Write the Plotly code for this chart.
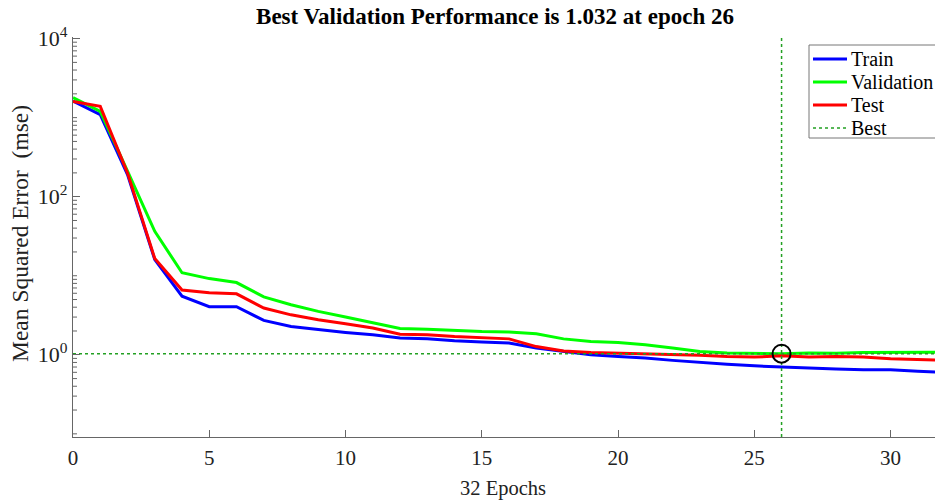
import math
import plotly.graph_objects as go

epochs = list(range(0, 33))
train = [1620, 1090, 190, 16, 5.5, 4.05, 4.05, 2.72, 2.28, 2.07, 1.92, 1.79, 1.63,
         1.59, 1.50, 1.45, 1.41, 1.22, 1.10, 1.00, 0.95, 0.91, 0.85, 0.80, 0.76,
         0.725, 0.70, 0.68, 0.66, 0.645, 0.645, 0.62, 0.60]
validation = [1790, 1200, 210, 36.5, 10.9, 9.2, 8.2, 5.4, 4.3, 3.54, 3.0, 2.54, 2.15,
              2.11, 2.03, 1.97, 1.94, 1.85, 1.59, 1.47, 1.43, 1.34, 1.22, 1.10, 1.05,
              1.035, 1.032, 1.05, 1.045, 1.07, 1.075, 1.075, 1.075]
test = [1600, 1390, 200, 16.5, 6.6, 6.1, 5.9, 3.9, 3.2, 2.77, 2.47, 2.18, 1.82,
        1.79, 1.70, 1.66, 1.59, 1.27, 1.12, 1.07, 1.05, 1.02, 1.00, 0.99, 0.95,
        0.935, 0.97, 0.935, 0.95, 0.935, 0.89, 0.865, 0.85]
best_epoch = 26
best_value = 1.032
n_epochs = 32

series_names = ["Train", "Validation", "Test", "Best"]
series_colors = ["#0000FF", "#00FF00", "#FF0000", "#22a022"]

x_range = [0, 31.63]
y_log_range = [-1.04, 4.02]
x_tick_vals = [0, 5, 10, 15, 20, 25, 30]
y_tick_vals = [1, 100, 10000]
y_tick_text = ["10<sup>0</sup>", "10<sup>2</sup>", "10<sup>4</sup>"]
y_minor_vals = [d * 10 ** k for k in range(-1, 4) for d in range(1, 10)
                if d * 10 ** k not in y_tick_vals]

serif = "Liberation Serif, Times New Roman, serif"
W, H = 935, 503
L, R, T, B = 73, 0, 37, 66
pw, ph = W - L - R, H - T - B


def px_x(px):
    return (px - L) / pw


def px_y(py):
    return (H - B - py) / ph


fig = go.Figure()
for name, vals, col in zip(series_names[:3], [train, validation, test], series_colors[:3]):
    fig.add_trace(go.Scatter(x=epochs, y=vals, mode="lines", name=name,
                             showlegend=False, line=dict(color=col, width=3)))
fig.add_trace(go.Scatter(
    x=[0, n_epochs, None, best_epoch, best_epoch],
    y=[best_value, best_value, None, 10 ** y_log_range[0], 10 ** y_log_range[1]],
    mode="lines", name="Best", showlegend=False,
    line=dict(color=series_colors[3], width=1.5, dash="dot")))
fig.add_trace(go.Scatter(x=[best_epoch], y=[best_value], mode="markers",
                         showlegend=False,
                         marker=dict(symbol="circle-open", size=18, color="black",
                                     line=dict(color="black", width=2))))

fig.update_layout(
    width=W, height=H,
    margin=dict(l=L, r=R, t=T, b=B, autoexpand=False),
    paper_bgcolor="white", plot_bgcolor="white",
    font=dict(family=serif, color="#222222"),
    title=dict(text="<b>Best Validation Performance is 1.032 at epoch 26</b>",
               xref="container", x=495 / W, xanchor="center",
               yref="container", y=1 - 16 / H, yanchor="middle",
               font=dict(size=23, color="black", family=serif)),
    showlegend=False,
)

fig.update_xaxes(range=x_range, showgrid=False, zeroline=False,
                 showline=True, linecolor="#666666", linewidth=1.3,
                 ticks="inside", ticklen=7, tickcolor="#666666",
                 tickvals=x_tick_vals, ticklabelstandoff=2,
                 tickfont=dict(size=21, family=serif, color="#222222"))
fig.update_yaxes(type="log", range=y_log_range, showgrid=False, zeroline=False,
                 showline=True, linecolor="#666666", linewidth=1.3,
                 ticks="inside", ticklen=7, tickcolor="#666666",
                 tickvals=y_tick_vals, ticktext=y_tick_text,
                 tickfont=dict(size=22, family=serif, color="#222222"))

# minor log ticks on the y axis (shape coordinates are data values on log axes)
for v in y_minor_vals:
    lv = math.log10(v)
    if y_log_range[0] <= lv <= y_log_range[1]:
        fig.add_shape(type="line", xref="paper", yref="y",
                      x0=0, x1=4 / pw, y0=v, y1=v,
                      line=dict(color="#666666", width=1), layer="above")

# legend box (manual, MATLAB style)
fig.add_shape(type="rect", xref="paper", yref="paper",
              x0=px_x(809), x1=px_x(945), y0=px_y(138), y1=px_y(45),
              line=dict(color="#777777", width=1), fillcolor="white", layer="above")
legend_rows = [59, 82, 105, 128]
for name, col, ry in zip(series_names, series_colors, legend_rows):
    fig.add_shape(type="line", xref="paper", yref="paper",
                  x0=px_x(813), x1=px_x(847), y0=px_y(ry), y1=px_y(ry),
                  line=dict(color=col, width=1.5 if name == "Best" else 3,
                            dash="dot" if name == "Best" else "solid"),
                  layer="above")
    fig.add_annotation(text=name, xref="paper", yref="paper",
                       x=px_x(849), y=px_y(ry), xanchor="left", yanchor="middle",
                       showarrow=False,
                       font=dict(size=20, family=serif, color="black"))

fig.add_annotation(text="32 Epochs", xref="paper", yref="paper",
                   x=px_x(503), y=px_y(488),
                   xanchor="center", yanchor="middle", showarrow=False,
                   font=dict(size=20.5, family=serif, color="#222222"))
fig.add_annotation(text="Mean Squared Error  (mse)", xref="paper", yref="paper",
                   x=px_x(20), y=px_y(234), textangle=-90,
                   xanchor="center", yanchor="middle", showarrow=False,
                   font=dict(size=23.5, family=serif, color="#222222"))

fig.write_html("out.html")
